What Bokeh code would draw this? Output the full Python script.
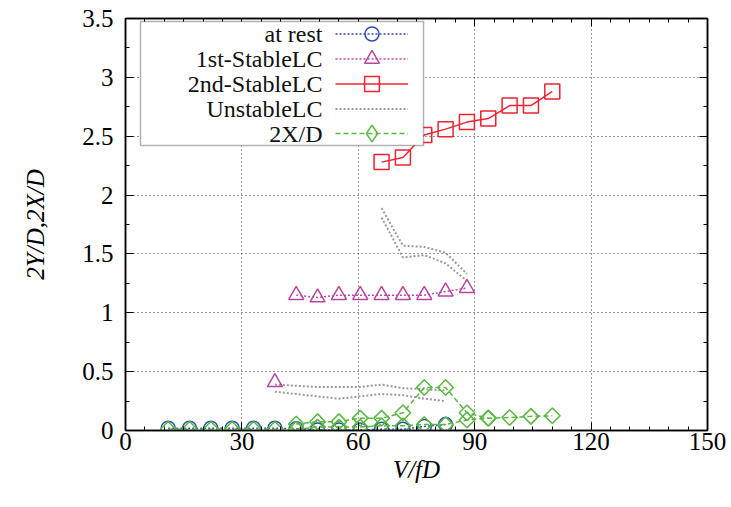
from bokeh.plotting import figure
from bokeh.models import (LinearAxis, Range1d, SingleIntervalTicker, Label,
                          BoxAnnotation, Legend, LegendItem, NumeralTickFormatter,
                          CustomJSTickFormatter)
from bokeh.embed import file_html
from bokeh.resources import INLINE

# ---------------- data ----------------
series_names = ["at rest", "1st-StableLC", "2nd-StableLC", "UnstableLC", "2X/D"]

x_rest = [11, 16.5, 22, 27.5, 33, 38.5, 44, 49.5, 55, 60.5, 66, 71.5, 77, 82.5]
y_rest = [0.02, 0.02, 0.02, 0.02, 0.02, 0.02, 0.015, 0.005, 0.005, 0.005, 0.01, 0.01, 0.035, 0.05]

x_s1 = [38.5, 44, 49.5, 55, 60.5, 66, 71.5, 77, 82.5, 88]
y_s1 = [0.41, 1.15, 1.13, 1.15, 1.15, 1.15, 1.15, 1.15, 1.18, 1.21]

x_s2 = [66, 71.5, 77, 82.5, 88, 93.5, 99, 104.5, 110]
y_s2 = [2.28, 2.32, 2.51, 2.56, 2.62, 2.65, 2.76, 2.76, 2.88]

x_un_hi = [66, 71.5, 77, 82.5, 88]
y_un_hi1 = [1.89, 1.57, 1.56, 1.51, 1.33]
y_un_hi2 = [1.81, 1.47, 1.49, 1.42, 1.27]
x_un_lo = [38.5, 44, 49.5, 55, 60.5, 66, 71.5, 77, 82.5]
y_un_lo1 = [0.39, 0.38, 0.37, 0.37, 0.37, 0.39, 0.36, 0.35, 0.34]
y_un_lo2 = [0.33, 0.31, 0.29, 0.27, 0.29, 0.31, 0.30, 0.27, 0.25]

x_2x_a = [44, 49.5, 55, 60.5, 66, 71.5, 77, 82.5, 88, 93.5]
y_2x_a = [0.055, 0.075, 0.075, 0.105, 0.105, 0.15, 0.365, 0.365, 0.15, 0.105]
x_2x_b = [11, 16.5, 22, 27.5, 33, 38.5, 44, 49.5, 55, 60.5, 66, 71.5, 77, 82.5,
          88, 93.5, 99, 104.5, 110]
y_2x_b = [0.01, 0.01, 0.01, 0.01, 0.01, 0.01, 0.01, 0.03, 0.03, 0.03, 0.04, 0.04,
          0.05, 0.05, 0.09, 0.105, 0.11, 0.12, 0.125]

# ---------------- style ----------------
BLUE = "#2d4fb4"
MAG = "#b8479f"
RED = "#ec2330"
GREY = "#9a9a9a"
GREEN = "#58b840"
SERIF = "Liberation Serif"

p = figure(width=731, height=507, output_backend="svg", toolbar_location=None,
           x_range=Range1d(0, 150), y_range=Range1d(0, 3.5),
           x_axis_location=None, y_axis_location=None,
           min_border_left=125, min_border_right=24, min_border_top=18,
           min_border_bottom=77, background_fill_color="white",
           border_fill_color="white")
p.outline_line_color = "black"
p.outline_line_width = 1.5

bottom_ax = LinearAxis(ticker=SingleIntervalTicker(interval=30, num_minor_ticks=6),
                       axis_label="V/fD")
left_ax = LinearAxis(ticker=SingleIntervalTicker(interval=0.5, num_minor_ticks=2),
                     formatter=NumeralTickFormatter(format="0.[0]"),
                     axis_label="2Y/D,2X/D")
top_ax = LinearAxis(ticker=SingleIntervalTicker(interval=30, num_minor_ticks=6),
                    formatter=CustomJSTickFormatter(code="return ''"))
right_ax = LinearAxis(ticker=SingleIntervalTicker(interval=0.5, num_minor_ticks=2),
                      formatter=CustomJSTickFormatter(code="return ''"))
p.add_layout(bottom_ax, "below")
p.add_layout(left_ax, "left")
p.add_layout(top_ax, "above")
p.add_layout(right_ax, "right")

for ax in [bottom_ax, left_ax, top_ax, right_ax]:
    ax.axis_line_color = "black"
    ax.axis_line_width = 1.5
    ax.major_tick_in = 8
    ax.major_tick_out = 0
    ax.minor_tick_in = 4
    ax.minor_tick_out = 0
    ax.major_tick_line_color = "black"
    ax.minor_tick_line_color = "black"
    ax.major_label_text_font = SERIF
    ax.major_label_text_color = "black"
    ax.major_label_text_font_size = "25px"
    ax.axis_label_text_font = SERIF
    ax.axis_label_text_font_style = "italic"
    ax.axis_label_text_color = "black"
    ax.axis_label_text_font_size = "25px"

for ax in [top_ax, right_ax]:
    ax.major_label_standoff = 0

bottom_ax.major_label_standoff = 2
left_ax.major_label_standoff = 12
bottom_ax.axis_label_standoff = 3
left_ax.axis_label_standoff = 30

p.xgrid.ticker = bottom_ax.ticker
p.ygrid.ticker = left_ax.ticker
for g in [p.xgrid[0], p.ygrid[0]]:
    g.grid_line_color = "#333333"
    g.grid_line_dash = "1 3"
    g.grid_line_width = 1

# ---------------- glyphs ----------------
r_un = p.multi_line([x_un_hi, x_un_hi, x_un_lo, x_un_lo],
                    [y_un_hi1, y_un_hi2, y_un_lo1, y_un_lo2],
                    line_color=GREY, line_width=2, line_dash="2 2")

l_s2 = p.line(x_s2, y_s2, line_color=RED, line_width=1.5)
m_s2 = p.scatter(x_s2, y_s2, marker="square", size=15, fill_color=None,
                 line_color=RED, line_width=1.5)

l_s1 = p.line(x_s1[1:], y_s1[1:], line_color=MAG, line_width=1.5, line_dash="2 2")
m_s1 = p.scatter(x_s1, y_s1, marker="triangle", size=15, fill_color=None,
                 line_color=MAG, line_width=1.5)

l_rest = p.line(x_rest, y_rest, line_color=BLUE, line_width=1.5, line_dash="2 2")
m_rest = p.scatter(x_rest, y_rest, marker="circle", size=14, fill_color=None,
                   line_color=BLUE, line_width=1.5)

l_2b = p.line(x_2x_b, y_2x_b, line_color=GREEN, line_width=1.5, line_dash="5 3")
m_2b = p.scatter(x_2x_b, y_2x_b, marker="square", angle=0.7854, size=11,
                 fill_color=None, line_color=GREEN, line_width=1.5)
l_2a = p.line(x_2x_a, y_2x_a, line_color=GREEN, line_width=1.5, line_dash="5 3")
m_2a = p.scatter(x_2x_a, y_2x_a, marker="square", angle=0.7854, size=11,
                 fill_color=None, line_color=GREEN, line_width=1.5)

# legend-only sample glyph for the diamond (legend ignores marker angle);
# a single NaN point, so nothing shows in the plot area
m_2leg = p.scatter([float("nan")], [float("nan")], marker="diamond", size=16,
                   fill_color=None, line_color=GREEN, line_width=1.5)

# ---------------- legend (labels left, samples right) ----------------
box = BoxAnnotation(left=15, right=298, bottom=285, top=409,
                    left_units="screen", right_units="screen",
                    top_units="screen", bottom_units="screen",
                    fill_color="white", fill_alpha=1.0,
                    line_color="black", line_width=1.5)
p.add_layout(box)

row_y = [397, 372, 347, 322, 297]
for name, yy in zip(series_names, row_y):
    p.add_layout(Label(x=197, y=yy, x_units="screen", y_units="screen",
                       text=name, text_align="right", text_baseline="middle",
                       text_font=SERIF, text_font_size="24px",
                       text_color="#111111"))

sample_renderers = [[l_rest, m_rest], [l_s1, m_s1], [l_s2, m_s2], [r_un], [l_2b, m_2leg]]
sample_heights = [35, 37, 37, 37, 42]
for rends, yy, gh in zip(sample_renderers, row_y, sample_heights):
    lg = Legend(items=[LegendItem(label="", renderers=rends, index=0)],
                location=(210, yy - gh / 2), glyph_width=73, glyph_height=gh,
                spacing=0, padding=0, margin=0, label_standoff=0, label_width=0,
                label_height=gh, border_line_color=None, background_fill_alpha=0,
                label_text_font_size="10px")
    p.add_layout(lg)

open("out.html", "w").write(file_html(p, INLINE))
